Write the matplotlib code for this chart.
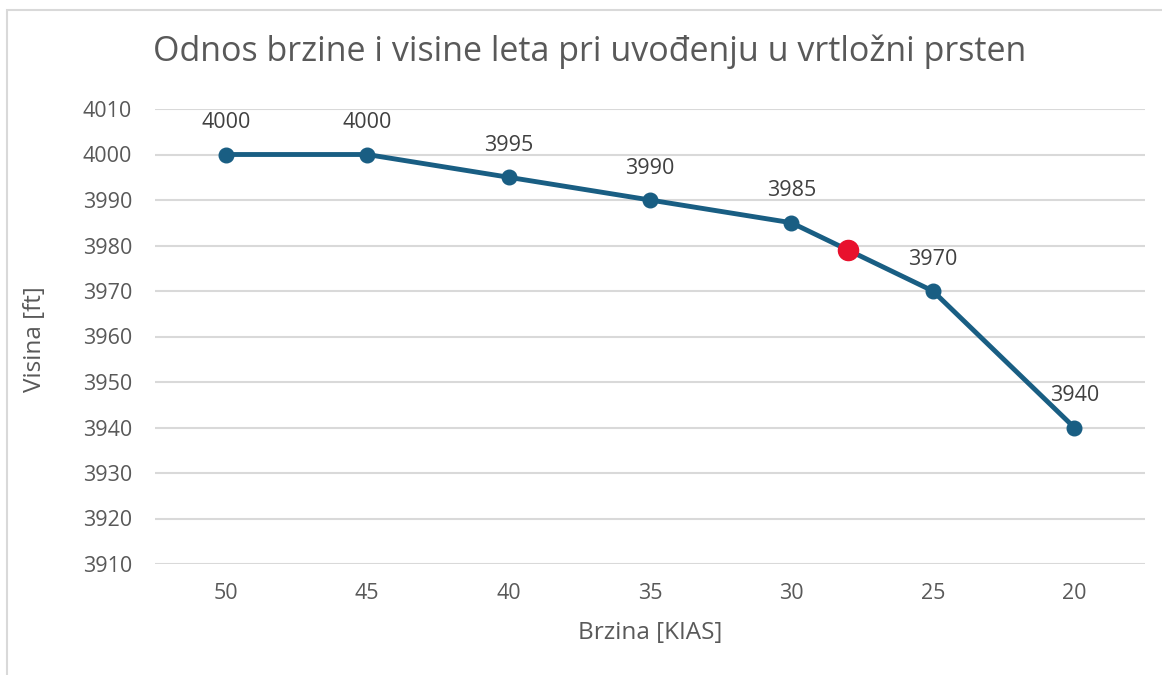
import matplotlib
matplotlib.use("Agg")
import matplotlib.pyplot as plt
from matplotlib.patches import Rectangle

speeds = [50, 45, 40, 35, 30, 25, 20]
heights = [4000, 4000, 3995, 3990, 3985, 3970, 3940]
highlight_speed = [28]
highlight_height = [3979]
yticks = list(range(3910, 4011, 10))

plt.rcParams['font.family'] = ['Open Sans', 'DejaVu Sans']

W, H = 1162, 675
fig = plt.figure(figsize=(W / 100, H / 100), dpi=100)
fig.patches.append(Rectangle((7 / W, -0.1), 1.2, 1 - 10 / H + 0.1, transform=fig.transFigure,
                             fill=False, edgecolor='#D9D9D9', linewidth=1.5, zorder=0))
ax = fig.add_axes([155 / W, 1 - 564 / H, (1145 - 155) / W, (564 - 109) / H])

line_color = '#195E83'
ax.plot(speeds, heights, color=line_color, linewidth=3.5, marker='o', markersize=10.5,
        zorder=3, solid_capstyle='round')
ax.plot(highlight_speed, highlight_height, 'o', color='#E8112D', markersize=14.5, zorder=4)

for s, h in zip(speeds, heights):
    ax.annotate(str(h), (s, h), xytext=(0, 23), textcoords='offset points',
                ha='center', va='center', fontsize=15.5, color='#404040')

ax.set_xlim(52.5, 17.5)
ax.set_ylim(3910, 4010)
ax.set_xticks(speeds)
ax.set_yticks(yticks)
ax.grid(axis='y', color='#D9D9D9', linewidth=1.5)
ax.set_axisbelow(True)
for sp in ax.spines.values():
    sp.set_visible(False)
ax.tick_params(axis='both', length=0, labelsize=15.5, labelcolor='#595959')
ax.tick_params(axis='y', pad=16.5)
ax.tick_params(axis='x', pad=13.5)

fig.text(650 / W, 1 - 633 / H, 'Brzina [KIAS]', ha='center', va='center',
         fontsize=17.5, color='#595959')
fig.text(35 / W, 1 - 339 / H, 'Visina [ft]', ha='center', va='center', rotation=90,
         fontsize=17.5, color='#595959')

fig.text(590 / W, 1 - 52 / H, 'Odnos brzine i visine leta pri uvođenju u vrtložni prsten',
         ha='center', va='center', fontsize=24.5, color='#595959')

fig.savefig('out.png', dpi=100)
